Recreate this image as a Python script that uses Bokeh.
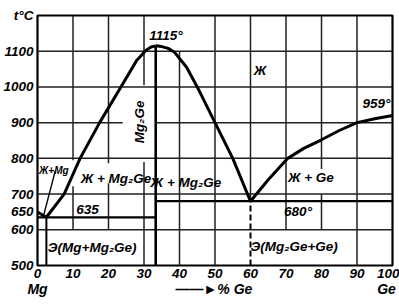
from bokeh.plotting import figure
from bokeh.models import Range1d, FixedTicker, Label, LinearAxis
from bokeh.embed import file_html
from bokeh.resources import INLINE

FONT = "Liberation Sans, DejaVu Sans, sans-serif"

# ---- data ----
x_ticks = [0, 10, 20, 30, 40, 50, 60, 70, 80, 90, 100]
y_ticks = [500, 600, 650, 700, 800, 900, 1000, 1100, 1200]

# chart-paper grid lines (some are interrupted by the field labels)
vgrid_x = [10, 10, 20, 20, 30, 30, 40, 50, 60, 70, 80, 80, 90]
vgrid_lo = [600, 795, 600, 786, 500, 1005, 500, 500, 680, 600, 600, 770, 500]
vgrid_hi = [722, 1200, 730, 1200, 790, 1200, 1100, 1200, 1200, 1200, 700, 1200, 1200]
hgrid_t = [600, 700, 800, 900, 900, 1000, 1100]
hgrid_lo = [0, 0, 0, 0, 33.3, 0, 0]
hgrid_hi = [100, 100, 100, 24, 100, 100, 100]

mg_liq_x = [0, 2.5]
mg_liq_t = [650, 635]
cmp_left_x = [2.5, 7.5, 12, 17.5, 23.5, 28, 30.5, 32, 33.3]
cmp_left_t = [635, 700, 800, 900, 1000, 1075, 1102, 1112, 1115]
cmp_right_x = [33.3, 35, 36.8, 38.5, 42, 45, 50, 55, 60]
cmp_right_t = [1115, 1113, 1108, 1098, 1055, 1000, 900, 800, 680]
ge_liq_x = [60, 65, 70.5, 75, 80, 85, 90, 95, 100]
ge_liq_t = [680, 740, 800, 828, 852, 878, 900, 911, 920]

compound_x = 33.3
compound_t = 1115
eut1_x, eut1_t = 2.5, 635
eut2_x, eut2_t = 60, 680
t_min, t_max = 500, 1200
x_min, x_max = 0, 100

p = figure(width=399, height=306, output_backend="svg", toolbar_location=None,
           x_range=Range1d(x_min, x_max), y_range=Range1d(t_min, t_max),
           min_border_left=35, min_border_right=7, min_border_top=15, min_border_bottom=41)
p.outline_line_color = "black"
p.outline_line_width = 2.2
p.grid.visible = False

# grid lines, each drawn as its own line
for gx, lo, hi in zip(vgrid_x, vgrid_lo, vgrid_hi):
    p.line([gx, gx], [lo, hi], line_color="#202020", line_width=1.5)
for gt, lo, hi in zip(hgrid_t, hgrid_lo, hgrid_hi):
    p.line([lo, hi], [gt, gt], line_color="#202020", line_width=1.5)

# axes
p.xaxis.ticker = FixedTicker(ticks=x_ticks)
p.yaxis.ticker = FixedTicker(ticks=y_ticks)
p.yaxis.major_label_overrides = {1200: "t°C"}

ax2 = LinearAxis(ticker=FixedTicker(ticks=[0, 49.7, 98.3]),
                 major_label_overrides={0: "Mg", 49.7: "——►% Ge", 98.3: "Ge"})
p.add_layout(ax2, "below")

for ax in (p.xaxis[0], p.yaxis[0], ax2):
    ax.axis_line_color = None
    ax.major_tick_line_color = None
    ax.minor_tick_line_color = None
    ax.major_tick_in = 0
    ax.major_tick_out = 0
    ax.minor_tick_in = 0
    ax.minor_tick_out = 0
    ax.major_label_text_font = FONT
    ax.major_label_text_font_style = "bold italic"
    ax.major_label_text_font_size = "13.5px"
    ax.major_label_text_color = "black"
p.xaxis[0].major_label_standoff = 3
p.yaxis[0].major_label_standoff = 4
ax2.major_label_standoff = 0
ax2.major_label_text_font_size = "14px"

# curves
lw = 3
p.line(mg_liq_x, mg_liq_t, line_color="black", line_width=lw)
p.line(cmp_left_x, cmp_left_t, line_color="black", line_width=lw)
p.line(cmp_right_x, cmp_right_t, line_color="black", line_width=lw)
p.line(ge_liq_x, ge_liq_t, line_color="black", line_width=lw)

# eutectic horizontals
p.line([x_min, compound_x], [eut1_t, eut1_t], line_color="black", line_width=2.2)
p.line([compound_x, x_max], [eut2_t, eut2_t], line_color="black", line_width=2.2)
# compound line
p.line([compound_x, compound_x], [t_min, compound_t], line_color="black", line_width=2.6)
# eutectic verticals
p.line([eut1_x, eut1_x], [t_min, eut1_t], line_color="black", line_width=2)
p.line([eut2_x, eut2_x], [t_min, eut2_t], line_color="black", line_width=2, line_dash="6 3")
# leader for the small field label
p.line([5, 1.8], [765, 643], line_color="black", line_width=1.4)


def lab(text, x, y, size="13.5px", align="center", angle=0):
    p.add_layout(Label(x=x, y=y, text=text, text_align=align, text_baseline="middle",
                       text_font=FONT, text_font_style="bold italic", text_font_size=size,
                       text_color="black", angle=angle))


lab("1115°", 31.5, 1144, align="left")
lab("Ж", 62.7, 1046)
lab("959°", 99.4, 954, align="right")
lab("Ж+Mg", 4.6, 765, size="10px")
lab("Ж + Mg₂Ge", 22.1, 744)
lab("Ж + Mg₂Ge", 41.8, 732)
lab("Ж + Ge", 77, 746)
lab("635", 14.1, 657)
lab("680°", 73.4, 651)
lab("Э(Mg+Mg₂Ge)", 15.4, 550)
lab("Э(Mg₂Ge+Ge)", 72.3, 553)
lab("Mg₂Ge", 28.7, 902, angle=1.5708)

open("out.html", "w").write(file_html(p, INLINE))
